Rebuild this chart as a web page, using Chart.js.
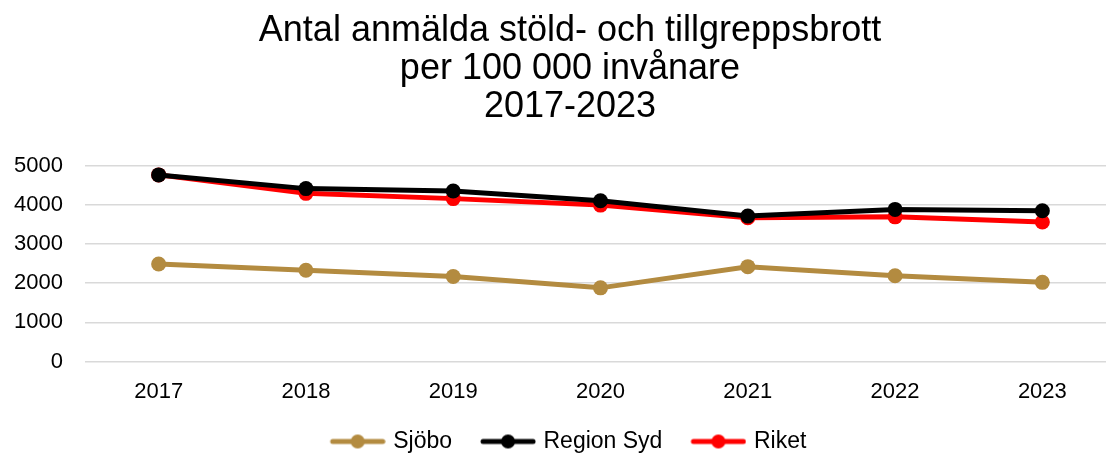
<!DOCTYPE html>
<html lang="sv">
<head>
<meta charset="UTF-8">
<title>Antal anmälda stöld- och tillgreppsbrott</title>
<script src="https://cdn.jsdelivr.net/npm/chart.js"></script>
<style>
  html, body { margin: 0; padding: 0; background: #fff; overflow: hidden; }
</style>
</head>
<body>
<canvas id="chart" width="1152" height="463"></canvas>
<script>
const years = ['2017', '2018', '2019', '2020', '2021', '2022', '2023'];
const sjobo = [2490, 2330, 2170, 1880, 2420, 2190, 2020];
const regionSyd = [4760, 4410, 4350, 4100, 3710, 3880, 3845];
const riket = [4760, 4290, 4155, 3990, 3670, 3690, 3560];
const titleLines = ['Antal anmälda stöld- och tillgreppsbrott', 'per 100 000 invånare', '2017-2023'];

const font = 'Liberation Sans, Arial, sans-serif';

// legend marker: line with a dot, some empty space on its left
function legendMarker(color) {
  const c = document.createElement('canvas');
  c.width = 72; c.height = 16;
  const g = c.getContext('2d');
  g.strokeStyle = color;
  g.lineWidth = 5;
  g.lineCap = 'round';
  g.beginPath(); g.moveTo(19, 8); g.lineTo(69, 8); g.stroke();
  g.fillStyle = color;
  g.beginPath(); g.arc(44, 8, 7, 0, Math.PI * 2); g.fill();
  return c;
}

function series(label, data, color) {
  return {
    label: label,
    data: data,
    borderColor: color,
    backgroundColor: color,
    borderWidth: 5,
    pointRadius: 7.5,
    pointHoverRadius: 7.5,
    pointBorderWidth: 0,
    tension: 0
  };
}

// title sits centred a little right of the canvas middle
const titleShift = {
  id: 'titleShift',
  afterLayout(chart) {
    chart.titleBlock.left += 8;
    chart.titleBlock.right += 8;
  }
};

new Chart(document.getElementById('chart'), {
  type: 'line',
  data: {
    labels: years,
    datasets: [
      series('Sjöbo', sjobo, '#b38b40'),
      series('Region Syd', regionSyd, '#000000'),
      series('Riket', riket, '#ff0000')
    ]
  },
  plugins: [titleShift],
  options: {
    responsive: false,
    animation: false,
    layout: { padding: { left: 8, right: 36, top: 12, bottom: 0 } },
    plugins: {
      title: {
        display: true,
        text: titleLines,
        color: '#000',
        font: { family: font, size: 36, weight: 'normal', lineHeight: 1.06 },
        padding: { top: 0, bottom: 39 }
      },
      legend: {
        position: 'bottom',
        labels: {
          color: '#000',
          font: { family: font, size: 23 },
          usePointStyle: true,
          pointStyleWidth: 64,
          padding: 16,
          generateLabels: (chart) => {
            const items = Chart.defaults.plugins.legend.labels.generateLabels(chart);
            items.forEach(it => { it.pointStyle = legendMarker(it.strokeStyle); });
            return items;
          }
        }
      },
      tooltip: { enabled: false }
    },
    scales: {
      x: {
        offset: true,
        grid: { display: false },
        border: { display: false },
        ticks: { color: '#000', font: { family: font, size: 22 }, padding: 9 }
      },
      y: {
        min: 0,
        max: 5000,
        afterFit: (scale) => { scale.width = 77; },
        ticks: {
          stepSize: 1000,
          color: '#000',
          font: { family: font, size: 22 },
          padding: 22,
          callback: (v) => String(v)
        },
        grid: { color: '#d9d9d9', lineWidth: 1.5, drawTicks: false },
        border: { display: false }
      }
    }
  }
});
</script>
</body>
</html>
